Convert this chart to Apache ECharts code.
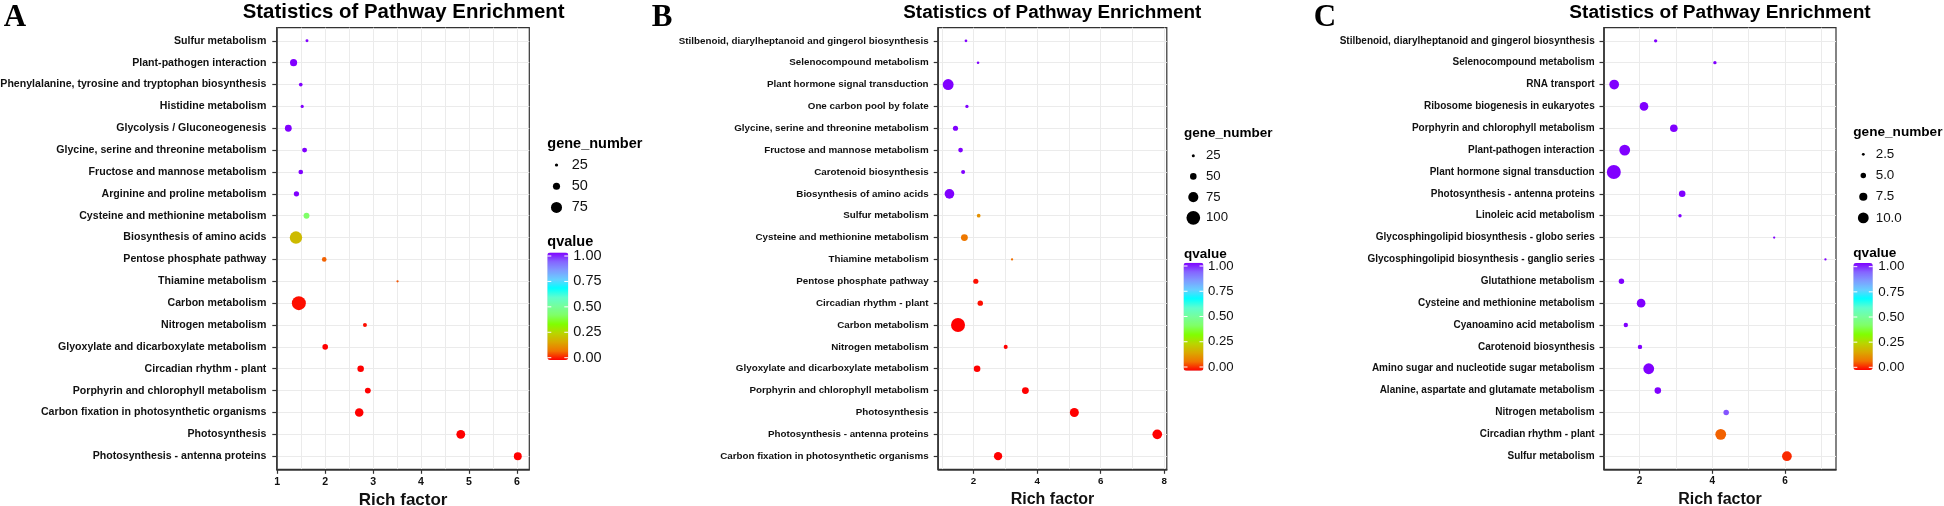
<!DOCTYPE html>
<html><head><meta charset="utf-8">
<script src="https://cdn.jsdelivr.net/npm/echarts@6/dist/echarts.min.js"></script>
<style>html,body{margin:0;padding:0;background:#fff}#c{width:1944px;height:506px}</style>
</head><body><div id="c"></div>
<script>
// ---------------- DATA ----------------
const catsA = ['Sulfur metabolism','Plant-pathogen interaction','Phenylalanine, tyrosine and tryptophan biosynthesis','Histidine metabolism','Glycolysis / Gluconeogenesis','Glycine, serine and threonine metabolism','Fructose and mannose metabolism','Arginine and proline metabolism','Cysteine and methionine metabolism','Biosynthesis of amino acids','Pentose phosphate pathway','Thiamine metabolism','Carbon metabolism','Nitrogen metabolism','Glyoxylate and dicarboxylate metabolism','Circadian rhythm - plant','Porphyrin and chlorophyll metabolism','Carbon fixation in photosynthetic organisms','Photosynthesis','Photosynthesis - antenna proteins'];
const richA = [1.62,1.34,1.49,1.52,1.23,1.57,1.49,1.40,1.61,1.39,1.98,3.51,1.45,2.83,2.00,2.74,2.89,2.71,4.83,6.02];
const geneA = [23,50,28,25,48,36,34,38,42,84,34,19,94,30,40,46,42,59,61,55];
const qA = [1,1,1,1,1,1,1,1,0.42,0.2,0.07,0.06,0.01,0.01,0,0,0,0,0,0];

const catsB = ['Stilbenoid, diarylheptanoid and gingerol biosynthesis','Selenocompound metabolism','Plant hormone signal transduction','One carbon pool by folate','Glycine, serine and threonine metabolism','Fructose and mannose metabolism','Carotenoid biosynthesis','Biosynthesis of amino acids','Sulfur metabolism','Cysteine and methionine metabolism','Thiamine metabolism','Pentose phosphate pathway','Circadian rhythm - plant','Carbon metabolism','Nitrogen metabolism','Glyoxylate and dicarboxylate metabolism','Porphyrin and chlorophyll metabolism','Photosynthesis','Photosynthesis - antenna proteins','Carbon fixation in photosynthetic organisms'];
const richB = [1.76,2.14,1.20,1.79,1.43,1.59,1.67,1.24,2.16,1.71,3.21,2.07,2.21,1.51,3.01,2.11,3.63,5.17,7.78,2.77];
const geneB = [23,22,80,27,40,37,32,72,30,52,20,40,42,102,32,50,52,67,72,62];
const qB = [1,1,1,1,1,1,1,1,0.13,0.09,0.08,0.01,0.01,0,0,0,0,0,0,0];

const catsC = ['Stilbenoid, diarylheptanoid and gingerol biosynthesis','Selenocompound metabolism','RNA transport','Ribosome biogenesis in eukaryotes','Porphyrin and chlorophyll metabolism','Plant-pathogen interaction','Plant hormone signal transduction','Photosynthesis - antenna proteins','Linoleic acid metabolism','Glycosphingolipid biosynthesis - globo series','Glycosphingolipid biosynthesis - ganglio series','Glutathione metabolism','Cysteine and methionine metabolism','Cyanoamino acid metabolism','Carotenoid biosynthesis','Amino sugar and nucleotide sugar metabolism','Alanine, aspartate and glutamate metabolism','Nitrogen metabolism','Circadian rhythm - plant','Sulfur metabolism'];
const richC = [2.44,4.07,1.30,2.12,2.94,1.59,1.29,3.17,3.11,5.70,7.11,1.50,2.04,1.62,2.01,2.25,2.50,4.38,4.23,6.05];
const geneC = [3,3,9,8,7,10,13,6,3,2,2,5,8,4,4,10,6,5,10,9];
const qC = [1,1,1,1,1,1,1,1,1,1,1,1,1,1,1,1,1,0.93,0.07,0.03];

const sizeBreaksA = [25,50,75];
const sizeBreaksB = [25,50,75,100];
const sizeBreaksC = [2.5,5.0,7.5,10.0];
const sizeLabelsA = ['25','50','75'];
const sizeLabelsB = ['25','50','75','100'];
const sizeLabelsC = ['2.5','5.0','7.5','10.0'];

const xTicksA = [1,2,3,4,5,6];
const xGridA = [1,1.5,2,2.5,3,3.5,4,4.5,5,5.5,6];
const xTicksB = [2,4,6,8];
const xGridB = [1,2,3,4,5,6,7,8];
const xTicksC = [2,4,6];
const xGridC = [1,2,3,4,5,6,7];

const qTicks = [1,0.75,0.5,0.25,0];
const titleText = 'Statistics of Pathway Enrichment';
const xTitle = 'Rich factor';
const sizeTitle = 'gene_number';
const colorTitle = 'qvalue';
const letters = ['A','B','C'];

// ---------------- STYLE / LAYOUT ----------------
const rainbowLab = ['#FF0000','#F07400','#DAA800','#B9D500','#80FF00','#7FFF66','#76FE9C','#5EFECE','#00FFFF','#67CEFF','#7F9BFF','#8564FF','#8000FF'];
const FONT = 'Liberation Sans';
const D_MIN = 2.3, D_MAX = 14;

const panels = [
  {cats:catsA, rich:richA, gene:geneA, q:qA, breaks:sizeBreaksA, blabels:sizeLabelsA, xTicks:xTicksA, xGrid:xGridA,
   L:{left:276.8,right:529.3,top:27.7,bottom:469.3,xMin:0.99,xMax:6.26,fs:10.6,titleFs:20.4,titleX:403.6,letterX:15,axisTitleFs:17,lblMargin:10.4,
   legX:547.3,legTitleY:143.5,legTitleFs:14.5,legDotX:556.5,legDotY0:165,legStep:21.2,legLblX:571.7,legFs:14.5,
   qTitleY:242.3,barX:547.3,barW:21,barTop:252.5,barH:107.5,qLblX:573.3,qLblTop:256,qLblBot:357.7}},
  {cats:catsB, rich:richB, gene:geneB, q:qB, breaks:sizeBreaksB, blabels:sizeLabelsB, xTicks:xTicksB, xGrid:xGridB,
   L:{left:938.2,right:1166.8,top:27.7,bottom:469.3,xMin:0.886,xMax:8.08,fs:9.8,titleFs:18.9,titleX:1052.3,letterX:662,axisTitleFs:16,lblMargin:9.6,
   legX:1184,legTitleY:133,legTitleFs:13.5,legDotX:1193.3,legDotY0:155.7,legStep:20.7,legLblX:1206,legFs:13.2,
   qTitleY:254.5,barX:1183.5,barW:20,barTop:262.7,barH:108,qLblX:1208,qLblTop:266,qLblBot:367}},
  {cats:catsC, rich:richC, gene:geneC, q:qC, breaks:sizeBreaksC, blabels:sizeLabelsC, xTicks:xTicksC, xGrid:xGridC,
   L:{left:1604,right:1836,top:27.7,bottom:469.3,xMin:1.02,xMax:7.40,fs:10,titleFs:19.1,titleX:1720,letterX:1325,axisTitleFs:16,lblMargin:9.3,
   legX:1853.3,legTitleY:132.7,legTitleFs:13.6,legDotX:1863.3,legDotY0:154.3,legStep:21.2,legLblX:1875.7,legFs:13.4,
   qTitleY:253.3,barX:1853.3,barW:19.5,barTop:263,barH:107,qLblX:1878.3,qLblTop:266.7,qLblBot:367.3}}
];

function makeSize(genes){
  const lo = Math.min(...genes), hi = Math.max(...genes);
  return g => D_MIN + (D_MAX - D_MIN) * (g - lo) / (hi - lo);
}

const H = 506, W = 1944;
const grid = [], xAxis = [], yAxis = [], series = [], visualMap = [], graphic = [];

panels.forEach((p, i) => {
  const L = p.L;
  const sizeFn = makeSize(p.gene);
  const n = p.cats.length;
  const idx = p.cats.map((_, j) => j);
  grid.push({left:L.left, top:L.top, width:L.right-L.left, height:L.bottom-L.top,
    show:true, borderColor:'#333', borderWidth:1.2, backgroundColor:'#fff', containLabel:false, outerBoundsMode:'none'});
  // main x axis
  xAxis.push({type:'value', gridIndex:i, min:L.xMin, max:L.xMax, position:'bottom',
    name:xTitle, nameLocation:'middle', nameGap:20,
    nameTextStyle:{fontFamily:FONT, fontWeight:'bold', fontSize:L.axisTitleFs, color:'#111'},
    axisLine:{show:true, onZero:false, lineStyle:{color:'#333', width:1.6}},
    axisTick:{show:true, length:4.5, customValues:p.xTicks, lineStyle:{color:'#333', width:1.2}},
    axisLabel:{show:true, customValues:p.xTicks, margin:7, fontFamily:FONT, fontWeight:'bold', fontSize:L.fs, color:'#111',
      formatter:v => String(v)},
    splitLine:{show:false}, minorSplitLine:{show:false}});
  // grid-line x axis
  xAxis.push({type:'value', gridIndex:i, min:L.xMin, max:L.xMax, position:'top',
    axisLine:{show:false}, axisLabel:{show:false},
    axisTick:{show:false, customValues:p.xGrid},
    splitLine:{show:true, lineStyle:{color:'#ebebeb', width:1}}});
  yAxis.push({type:'value', gridIndex:i, inverse:true, min:-0.6, max:n-0.4,
    axisLine:{show:true, onZero:false, lineStyle:{color:'#333', width:1.6}},
    axisTick:{show:true, length:4.5, customValues:idx, lineStyle:{color:'#333', width:1.2}},
    axisLabel:{show:true, customValues:idx, margin:L.lblMargin, fontFamily:FONT, fontWeight:'bold', fontSize:L.fs, color:'#111',
      formatter:v => p.cats[Math.round(v)]},
    splitLine:{show:true, lineStyle:{color:'#ebebeb', width:1}}});
  series.push({type:'scatter', xAxisIndex:2*i, yAxisIndex:i, animation:false,
    data:p.rich.map((x, j) => [x, j, p.q[j], p.gene[j]]),
    symbol:'circle', symbolSize:v => sizeFn(v[3]), itemStyle:{opacity:1}});
  visualMap.push({type:'continuous', seriesIndex:i, dimension:2, min:0, max:1,
    inRange:{color:rainbowLab}, orient:'vertical', left:L.barX, top:L.barTop,
    itemWidth:L.barW, itemHeight:L.barH, padding:0, calculable:false, hoverLink:false, showLabel:false});

  // letter and title
  graphic.push({type:'text', x:L.letterX, y:18, style:{text:letters[i], font:'bold 31px "Liberation Serif"', fill:'#000', align:'center', verticalAlign:'middle'}});
  graphic.push({type:'text', x:L.titleX, y:12.5, style:{text:titleText, font:'bold '+L.titleFs+'px "'+FONT+'"', fill:'#000', align:'center', verticalAlign:'middle'}});
  // size legend
  graphic.push({type:'text', x:L.legX, y:L.legTitleY, style:{text:sizeTitle, font:'bold '+L.legTitleFs+'px "'+FONT+'"', fill:'#000', align:'left', verticalAlign:'middle'}});
  p.breaks.forEach((b, k) => {
    const cy = L.legDotY0 + k * L.legStep;
    graphic.push({type:'circle', shape:{cx:L.legDotX, cy:cy, r:sizeFn(b)/2}, style:{fill:'#000'}});
    graphic.push({type:'text', x:L.legLblX, y:cy, style:{text:p.blabels[k], font:L.legFs+'px "'+FONT+'"', fill:'#111', align:'left', verticalAlign:'middle'}});
  });
  // color legend
  graphic.push({type:'text', x:L.legX, y:L.qTitleY, style:{text:colorTitle, font:'bold '+L.legTitleFs+'px "'+FONT+'"', fill:'#000', align:'left', verticalAlign:'middle'}});
  qTicks.forEach(t => {
    const cy = L.qLblBot + (L.qLblTop - L.qLblBot) * t;
    graphic.push({type:'text', x:L.qLblX, y:cy, style:{text:t.toFixed(2), font:L.legFs+'px "'+FONT+'"', fill:'#111', align:'left', verticalAlign:'middle'}, z:10});
    graphic.push({type:'line', shape:{x1:L.barX, y1:cy, x2:L.barX+4, y2:cy}, style:{stroke:'#fff', lineWidth:1}, z:100});
    graphic.push({type:'line', shape:{x1:L.barX+L.barW-4, y1:cy, x2:L.barX+L.barW, y2:cy}, style:{stroke:'#fff', lineWidth:1}, z:100});
  });
});

const chart = echarts.init(document.getElementById('c'), null, {renderer:'canvas', width:W, height:H});
chart.setOption({
  animation:false,
  backgroundColor:'#fff',
  grid, xAxis, yAxis, series, visualMap,
  graphic:{elements:graphic}
});
</script>
</body></html>
